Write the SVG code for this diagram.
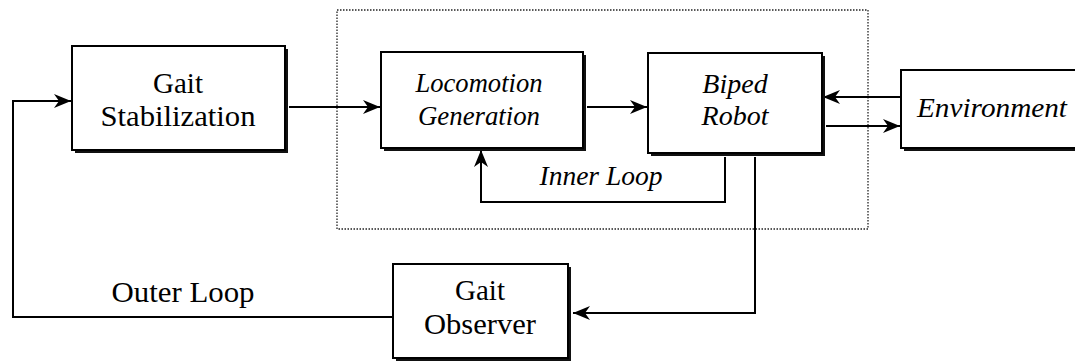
<svg xmlns="http://www.w3.org/2000/svg" width="1075" height="362" viewBox="0 0 1075 362">
<style>
.box{fill:#fff;stroke:#000;stroke-width:2}
.sh{fill:#111}
.t{font-family:"Liberation Serif",serif;font-size:29px;fill:#000;text-anchor:middle}
.i{font-style:italic;font-size:28px}
.c{fill:none;stroke:#000;stroke-width:2}
</style>
<defs>
<marker id="ah" markerUnits="userSpaceOnUse" markerWidth="18" markerHeight="16" viewBox="0 0 18 16" refX="17" refY="8" orient="auto">
<path d="M0,1 L17,8 L0,15 L5,8 z" fill="#000"/>
</marker>
</defs>
<rect x="337" y="10" width="531" height="219" fill="none" stroke="#222" stroke-width="1.3" stroke-dasharray="1.5 1.5"/>
<g id="connectors">
<path class="c" d="M393,317 H13 V101 H71" marker-end="url(#ah)"/>
<path class="c" d="M289,107 H380" marker-end="url(#ah)"/>
<path class="c" d="M587,107 H647" marker-end="url(#ah)"/>
<path class="c" d="M901,97 H823" marker-end="url(#ah)"/>
<path class="c" d="M826,126 H900" marker-end="url(#ah)"/>
<path class="c" d="M725,157 V202 H481 V150" marker-end="url(#ah)"/>
<path class="c" d="M755,157 V313 H573" marker-end="url(#ah)"/>
</g>
<g id="gait-stabilization">
<rect class="sh" x="75" y="49" width="213" height="104"/>
<rect class="box" x="72" y="46" width="213" height="104"/>
<text class="t" x="178" y="93">Gait</text>
<text class="t" x="178" y="126" textLength="155" lengthAdjust="spacingAndGlyphs">Stabilization</text>
</g>
<g id="locomotion-generation">
<rect class="sh" x="384" y="55" width="202" height="96"/>
<rect class="box" x="381" y="52" width="202" height="96"/>
<text class="t i" x="479" y="92" textLength="127" lengthAdjust="spacingAndGlyphs">Locomotion</text>
<text class="t i" x="479" y="125" textLength="122" lengthAdjust="spacingAndGlyphs">Generation</text>
</g>
<g id="biped-robot">
<rect class="sh" x="651" y="56" width="174" height="100"/>
<rect class="box" x="648" y="53" width="174" height="100"/>
<text class="t i" x="735" y="93">Biped</text>
<text class="t i" x="735" y="125">Robot</text>
</g>
<g id="environment">
<rect class="sh" x="904" y="73" width="180" height="78"/>
<rect class="box" x="901" y="70" width="180" height="78"/>
<text class="t i" x="992" y="117" textLength="150" lengthAdjust="spacingAndGlyphs">Environment</text>
</g>
<g id="gait-observer">
<rect class="sh" x="396" y="267" width="175" height="94"/>
<rect class="box" x="393" y="264" width="175" height="94"/>
<text class="t" x="480" y="300">Gait</text>
<text class="t" x="480" y="334" textLength="112" lengthAdjust="spacingAndGlyphs">Observer</text>
</g>
<text class="t i" x="601" y="185" textLength="123" lengthAdjust="spacingAndGlyphs">Inner Loop</text>
<text class="t" x="183" y="302" textLength="143" lengthAdjust="spacingAndGlyphs">Outer Loop</text>
</svg>
